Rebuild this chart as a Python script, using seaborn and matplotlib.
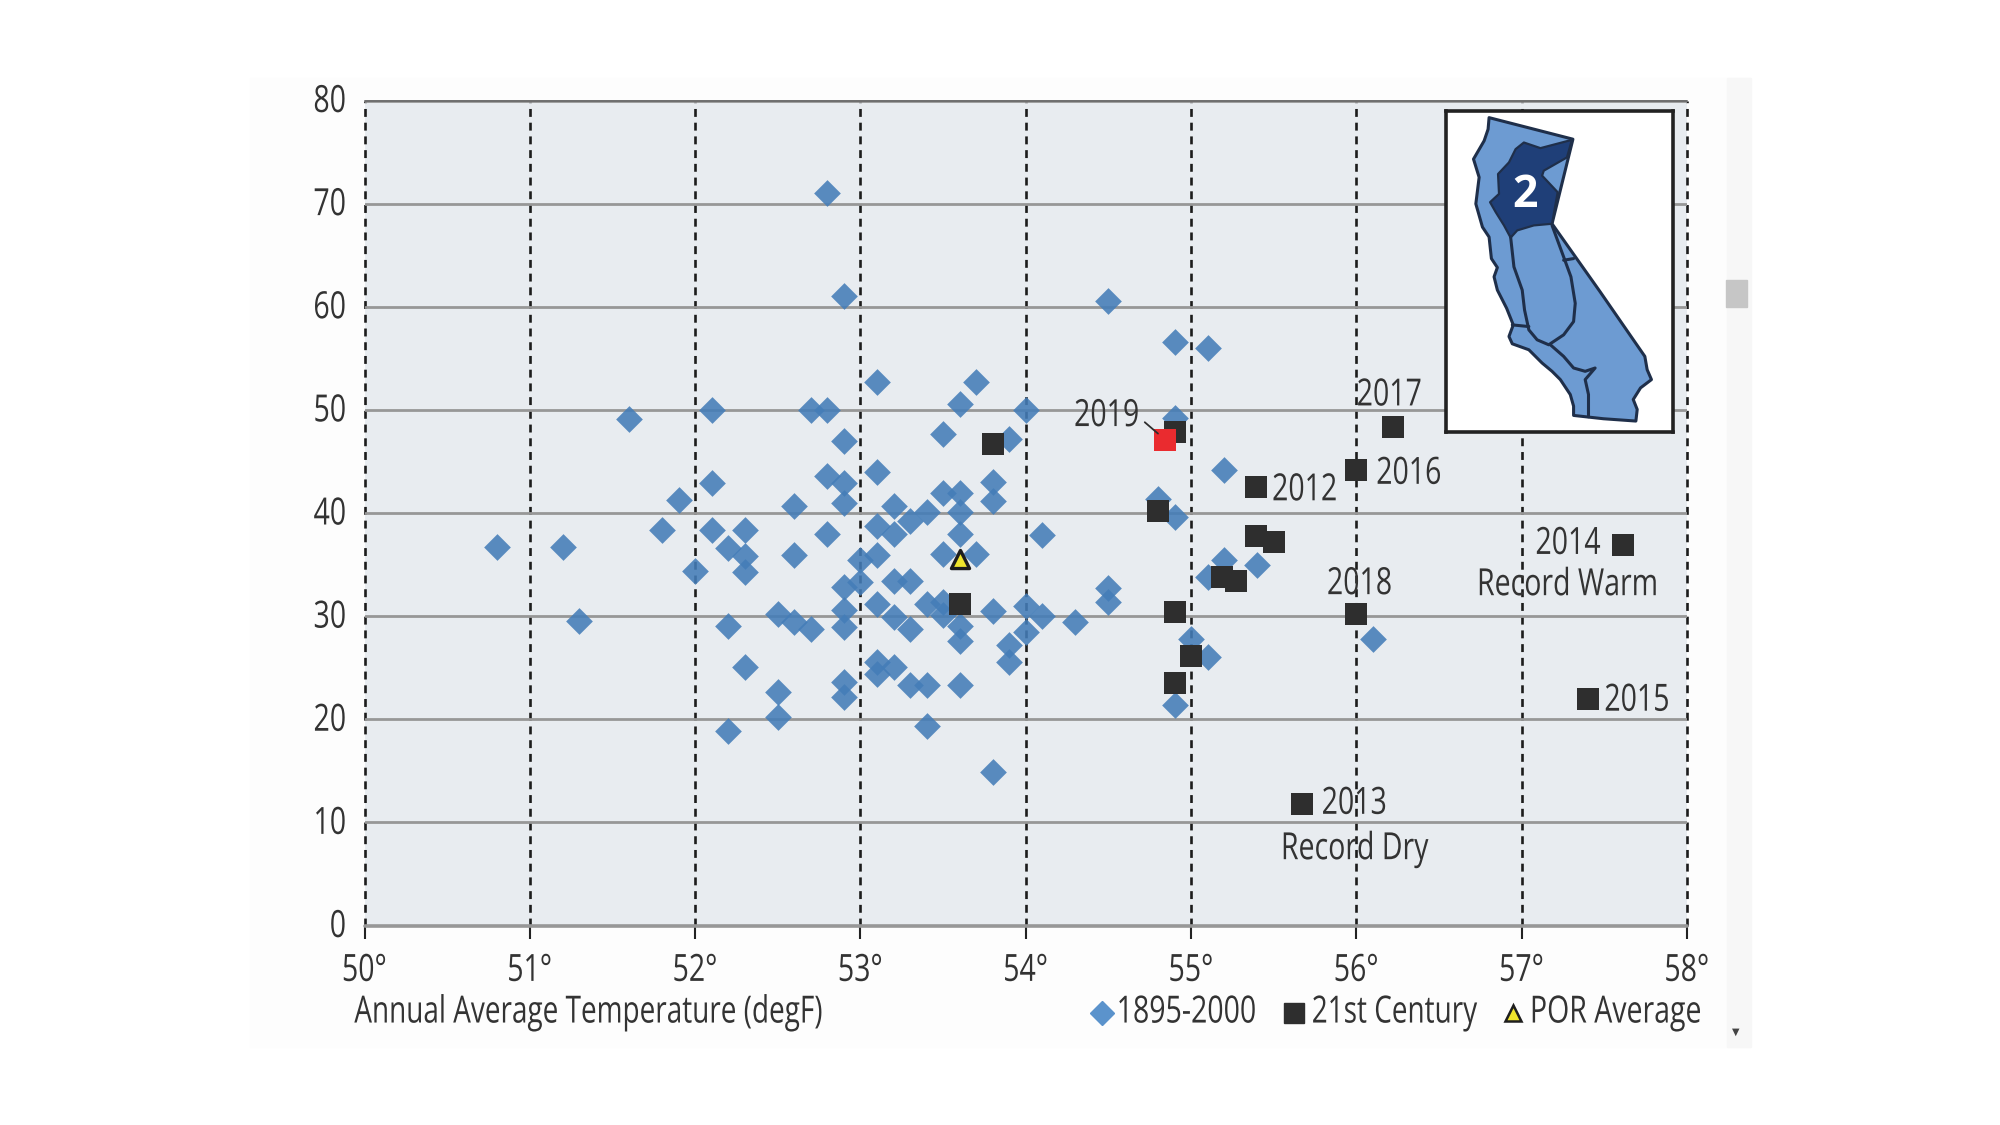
"""Temperature vs precipitation scatter for California climate region 2."""

import matplotlib.patheffects as path_effects
import matplotlib.pyplot as plt
import seaborn as sns
from matplotlib.patches import Polygon, Rectangle
from matplotlib.transforms import Affine2D

# 1895-2000 years
hist_temp = [
    50.8, 51.2, 51.3, 51.6, 51.8, 51.9, 52.0, 52.1, 52.1, 52.1, 52.2, 52.3, 52.3, 52.3,
    52.2, 52.3, 52.2, 52.5, 52.5, 52.5, 52.6, 52.6, 52.6, 52.7, 52.7, 52.8, 52.8, 52.9,
    52.9, 52.8, 52.9, 52.9, 52.8, 52.9, 52.9, 52.9, 52.9, 52.9, 53.0, 53.0, 53.1, 53.1,
    53.1, 53.1, 53.1, 53.1, 53.1, 53.2, 53.2, 53.2, 53.2, 53.2, 53.3, 53.3, 53.3, 53.3,
    53.4, 53.4, 53.4, 53.4, 53.5, 53.5, 53.5, 53.5, 53.5, 53.6, 53.6, 53.6, 53.6, 53.6,
    53.6, 53.6, 53.7, 53.7, 53.8, 53.8, 53.8, 53.8, 53.9, 53.9, 53.9, 54.0, 54.0, 54.0,
    54.1, 54.1, 54.3, 54.5, 54.5, 54.5, 54.8, 54.9, 54.9, 54.9, 54.9, 55.0, 55.1, 55.1,
    55.1, 55.2, 55.2, 55.4, 56.1,
]
hist_precip = [
    36.7, 36.7, 29.5, 49.1, 38.4, 41.3, 34.4, 50.0, 42.9, 38.4, 36.6, 35.8, 34.3, 38.4,
    29.0, 25.1, 18.9, 30.2, 22.6, 20.2, 29.4, 35.9, 40.7, 28.8, 50.0, 50.0, 71.0, 61.0,
    47.0, 43.6, 42.9, 41.0, 38.0, 32.8, 30.6, 28.9, 23.6, 22.2, 35.4, 33.3, 35.9, 38.7,
    44.0, 52.7, 31.2, 25.6, 24.4, 40.7, 38.0, 33.4, 29.9, 25.1, 39.2, 33.4, 28.8, 23.3,
    40.1, 31.2, 23.3, 19.3, 47.7, 41.9, 36.0, 31.4, 30.1, 50.6, 41.9, 40.1, 38.0, 29.0,
    27.6, 23.3, 52.7, 36.0, 43.0, 41.2, 30.5, 14.9, 47.2, 27.2, 25.6, 50.0, 31.0, 28.5,
    37.9, 30.0, 29.4, 60.6, 32.7, 31.4, 41.4, 56.6, 49.2, 39.6, 21.4, 27.8, 56.0, 26.0,
    33.8, 44.2, 35.4, 35.0, 27.8,
]

# 21st century years
recent_temp = [
    53.6, 53.8, 54.8, 54.9, 54.9, 54.9, 55.0, 55.19, 55.27, 55.39, 55.39, 55.5, 55.67, 56.0,
    56.0, 56.22, 57.4, 57.61,
]
recent_precip = [
    31.2, 46.7, 40.2, 47.9, 30.4, 23.5, 26.1, 33.8, 33.4, 42.5, 37.8, 37.2, 11.8, 44.2,
    30.2, 48.3, 22.0, 36.9,
]

latest_temp = [54.84]
latest_precip = [47.1]
por_temp = [53.6]
por_precip = [35.5]

x_ticks = [50, 51, 52, 53, 54, 55, 56, 57, 58]
x_tick_labels = ["50°", "51°", "52°", "53°", "54°", "55°", "56°", "57°", "58°"]
y_ticks = [0, 10, 20, 30, 40, 50, 60, 70, 80]

# label text, x, y, horizontal alignment
year_labels = [
    ("2012", 55.49, 42.2, "left"),
    ("2013", 55.79, 11.8, "left"),
    ("Record Dry", 55.99, 7.4, "center"),
    ("2014", 57.28, 37.0, "center"),
    ("Record Warm", 57.28, 33.0, "center"),
    ("2015", 57.5, 21.8, "left"),
    ("2016", 56.12, 43.8, "left"),
    ("2017", 56.2, 51.4, "center"),
    ("2018", 56.02, 33.1, "center"),
    ("2019", 54.49, 49.4, "center"),
]

# inset map outlines, traced in inset pixels
state_outline = [
    (265, 170), (518, 235), (455, 490), (600, 695), (735, 890), (742, 930), (755, 960),
    (722, 985), (700, 1020), (712, 1050), (708, 1085), (610, 1078), (520, 1068), (520, 1040),
    (510, 1005), (480, 960), (455, 935), (425, 910), (385, 870), (335, 852), (325, 830),
    (338, 795), (318, 745), (290, 690), (280, 650), (290, 622), (272, 595), (265, 530),
    (245, 500), (225, 430), (235, 350), (218, 295), (250, 240), (262, 205),
]
region2_outline = [
    (515, 237), (500, 290), (430, 330), (425, 345), (472, 395), (455, 490), (400, 495),
    (350, 510), (330, 532), (310, 495), (285, 455), (268, 425), (295, 400), (292, 340),
    (325, 305), (345, 265), (370, 245), (420, 262),
]
valley_line = [
    (330, 530), (340, 620), (365, 690), (372, 750), (385, 810), (410, 840), (445, 855),
    (490, 825), (520, 785), (525, 730), (512, 650), (490, 590), (455, 495),
]
south_line = [
    (450, 855), (490, 890), (520, 925), (555, 935), (585, 925), (555, 960), (565, 1005),
    (565, 1072),
]
bay_line = [(335, 795), (385, 800)]
sierra_line = [(490, 600), (520, 595)]

BLUE = "#447DB8"
DARK = "#2E2E2E"
YELLOW = "#F0E52C"
TEXT = "#333333"
FONT_SIZE = 27
NARROW = 0.76
LEGEND_Y = -0.1055


class Condensed(path_effects.AbstractPathEffect):
    """Squeeze text horizontally, the reference uses a condensed face."""

    def __init__(self, align="left", factor=NARROW, lift=0):
        super().__init__()
        self.align = align
        self.factor = factor
        self.lift = lift

    def draw_path(self, renderer, gc, tpath, affine, rgbFace=None):
        width = tpath.get_extents().x1
        anchor = {"left": 0.0, "center": 0.5, "right": 1.0}[self.align]
        squeeze = Affine2D().scale(self.factor, 1).translate(anchor * (1 - self.factor) * width, 0)
        renderer.draw_path(gc, tpath, squeeze + affine + Affine2D().translate(0, self.lift), rgbFace)


sns.set_theme(style="white")
plt.rcParams["font.family"] = ["Open Sans", "DejaVu Sans"]

fig = plt.figure(figsize=(20, 11.25), dpi=100)

# faint screenshot panel and scrollbar behind the chart
fig.patches.append(Rectangle((250 / 2000, 1 - 1047 / 1125), 1500 / 2000, 969 / 1125,
                             transform=fig.transFigure, color="#FDFDFD", zorder=-3))
fig.patches.append(Rectangle((1727 / 2000, 1 - 1047 / 1125), 24 / 2000, 969 / 1125,
                             transform=fig.transFigure, color="#F7F7F7", zorder=-2))
fig.patches.append(Rectangle((1726 / 2000, 1 - 307 / 1125), 21 / 2000, 27 / 1125,
                             transform=fig.transFigure, color="#C6C6C6", zorder=-1))
fig.text(1736 / 2000, 1 - 1032 / 1125, "▼", fontsize=7, color="#444444", ha="center",
         va="center", family="DejaVu Sans")

ax = fig.add_axes([364.5 / 2000, 1 - 925.5 / 1125, 1322.5 / 2000, 825 / 1125])
ax.set_facecolor("#E8ECF0")

sns.scatterplot(x=hist_temp, y=hist_precip, marker="D", s=185, color=BLUE, alpha=0.88,
                linewidth=0, ax=ax, zorder=3)
sns.scatterplot(x=recent_temp, y=recent_precip, marker="s", s=245, color=DARK,
                linewidth=0, ax=ax, zorder=4)
sns.scatterplot(x=latest_temp, y=latest_precip, marker="s", s=245, color="#EA2B2F",
                linewidth=0, ax=ax, zorder=5)
sns.scatterplot(x=por_temp, y=por_precip, marker="^", s=170, color=YELLOW,
                edgecolor="#1E1E1E", linewidth=2.4, ax=ax, zorder=6)

ax.set_xlim(50, 58)
ax.set_ylim(0, 80)
ax.set_xticks(x_ticks)
ax.set_xticklabels(x_tick_labels)
ax.set_yticks(y_ticks)
ax.tick_params(axis="x", length=9, width=1.5, color="#222222", pad=10, labelsize=FONT_SIZE,
               labelcolor=TEXT, bottom=True)
ax.tick_params(axis="y", length=0, pad=13, labelsize=FONT_SIZE, labelcolor=TEXT)
for label in ax.get_xticklabels():
    label.set_path_effects([Condensed("center")])
for label in ax.get_yticklabels():
    label.set_path_effects([Condensed("right", lift=3)])

ax.grid(axis="y", color="#979797", linewidth=2.0, zorder=1)
ax.grid(axis="x", color="#1C1C1C", linewidth=1.9, linestyle=(0, (3.0, 2.2)), zorder=2)
for line in ax.get_xgridlines():
    line.set_clip_on(False)
ax.set_axisbelow(True)
sns.despine(ax=ax, left=True, bottom=True, top=True, right=True)
ax.axhline(0, color="#979797", linewidth=2.6, zorder=1, clip_on=False)
ax.axhline(80, color="#6E6E6E", linewidth=1.4, zorder=1, clip_on=False)

for text, x_val, y_val, align in year_labels:
    ax.text(x_val, y_val, text, fontsize=FONT_SIZE, color=TEXT, ha=align, va="center", zorder=7,
            path_effects=[Condensed(align)])
ax.plot([54.72, 54.8], [48.8, 47.7], color=DARK, linewidth=1.3, zorder=7)

ax.text(-0.0077, LEGEND_Y, "Annual Average Temperature (degF)", transform=ax.transAxes,
        fontsize=FONT_SIZE, color=TEXT, ha="left", va="center",
        path_effects=[Condensed(factor=0.745)])

# legend entries placed by hand because the condensed text is narrower than its layout box
legend_trans = ax.get_xaxis_transform()
ax.plot(54.46, LEGEND_Y, marker="D", markersize=12, color="#5B93CC", linestyle="",
        transform=legend_trans, clip_on=False)
ax.text(54.55, LEGEND_Y, "1895-2000", transform=legend_trans, fontsize=FONT_SIZE, color=TEXT,
        va="center", path_effects=[Condensed()])
ax.plot(55.62, LEGEND_Y, marker="s", markersize=15, color=DARK, linestyle="",
        transform=legend_trans, clip_on=False)
ax.text(55.73, LEGEND_Y, "21st Century", transform=legend_trans, fontsize=FONT_SIZE, color=TEXT,
        va="center", path_effects=[Condensed(factor=0.745)])
ax.plot(56.95, LEGEND_Y, marker="^", markersize=11, markerfacecolor=YELLOW,
        markeredgecolor="#1E1E1E", markeredgewidth=1.8, linestyle="",
        transform=legend_trans, clip_on=False)
ax.text(57.05, LEGEND_Y, "POR Average", transform=legend_trans, fontsize=FONT_SIZE, color=TEXT,
        va="center", path_effects=[Condensed()])

# inset locator map
inset = fig.add_axes([1446 / 2000, 1 - 432 / 1125, 227 / 2000, 321 / 1125])
inset.set_xlim(135, 820)
inset.set_ylim(1118, 150)
inset.set_xticks([])
inset.set_yticks([])
inset.set_facecolor("white")
for spine in inset.spines.values():
    spine.set_visible(True)
    spine.set_color("#222222")
    spine.set_linewidth(2.6)
inset.add_patch(Polygon(state_outline, closed=True, facecolor="#6D9BD2",
                        edgecolor="#1F2F4A", linewidth=2.2, joinstyle="round"))
inset.add_patch(Polygon(region2_outline, closed=True, facecolor="#1F3F78",
                        edgecolor="#1F2F4A", linewidth=1.6, joinstyle="round"))
for line in [valley_line, south_line, bay_line, sierra_line]:
    inset.plot([p[0] for p in line], [p[1] for p in line], color="#1F2F4A", linewidth=2.2)
inset.text(372, 405, "2", fontsize=32, fontweight="bold", color="white", ha="center",
           va="center", family=["Open Sans", "DejaVu Sans"])

fig.savefig("out.png", dpi=100, facecolor="white")
plt.close(fig)
